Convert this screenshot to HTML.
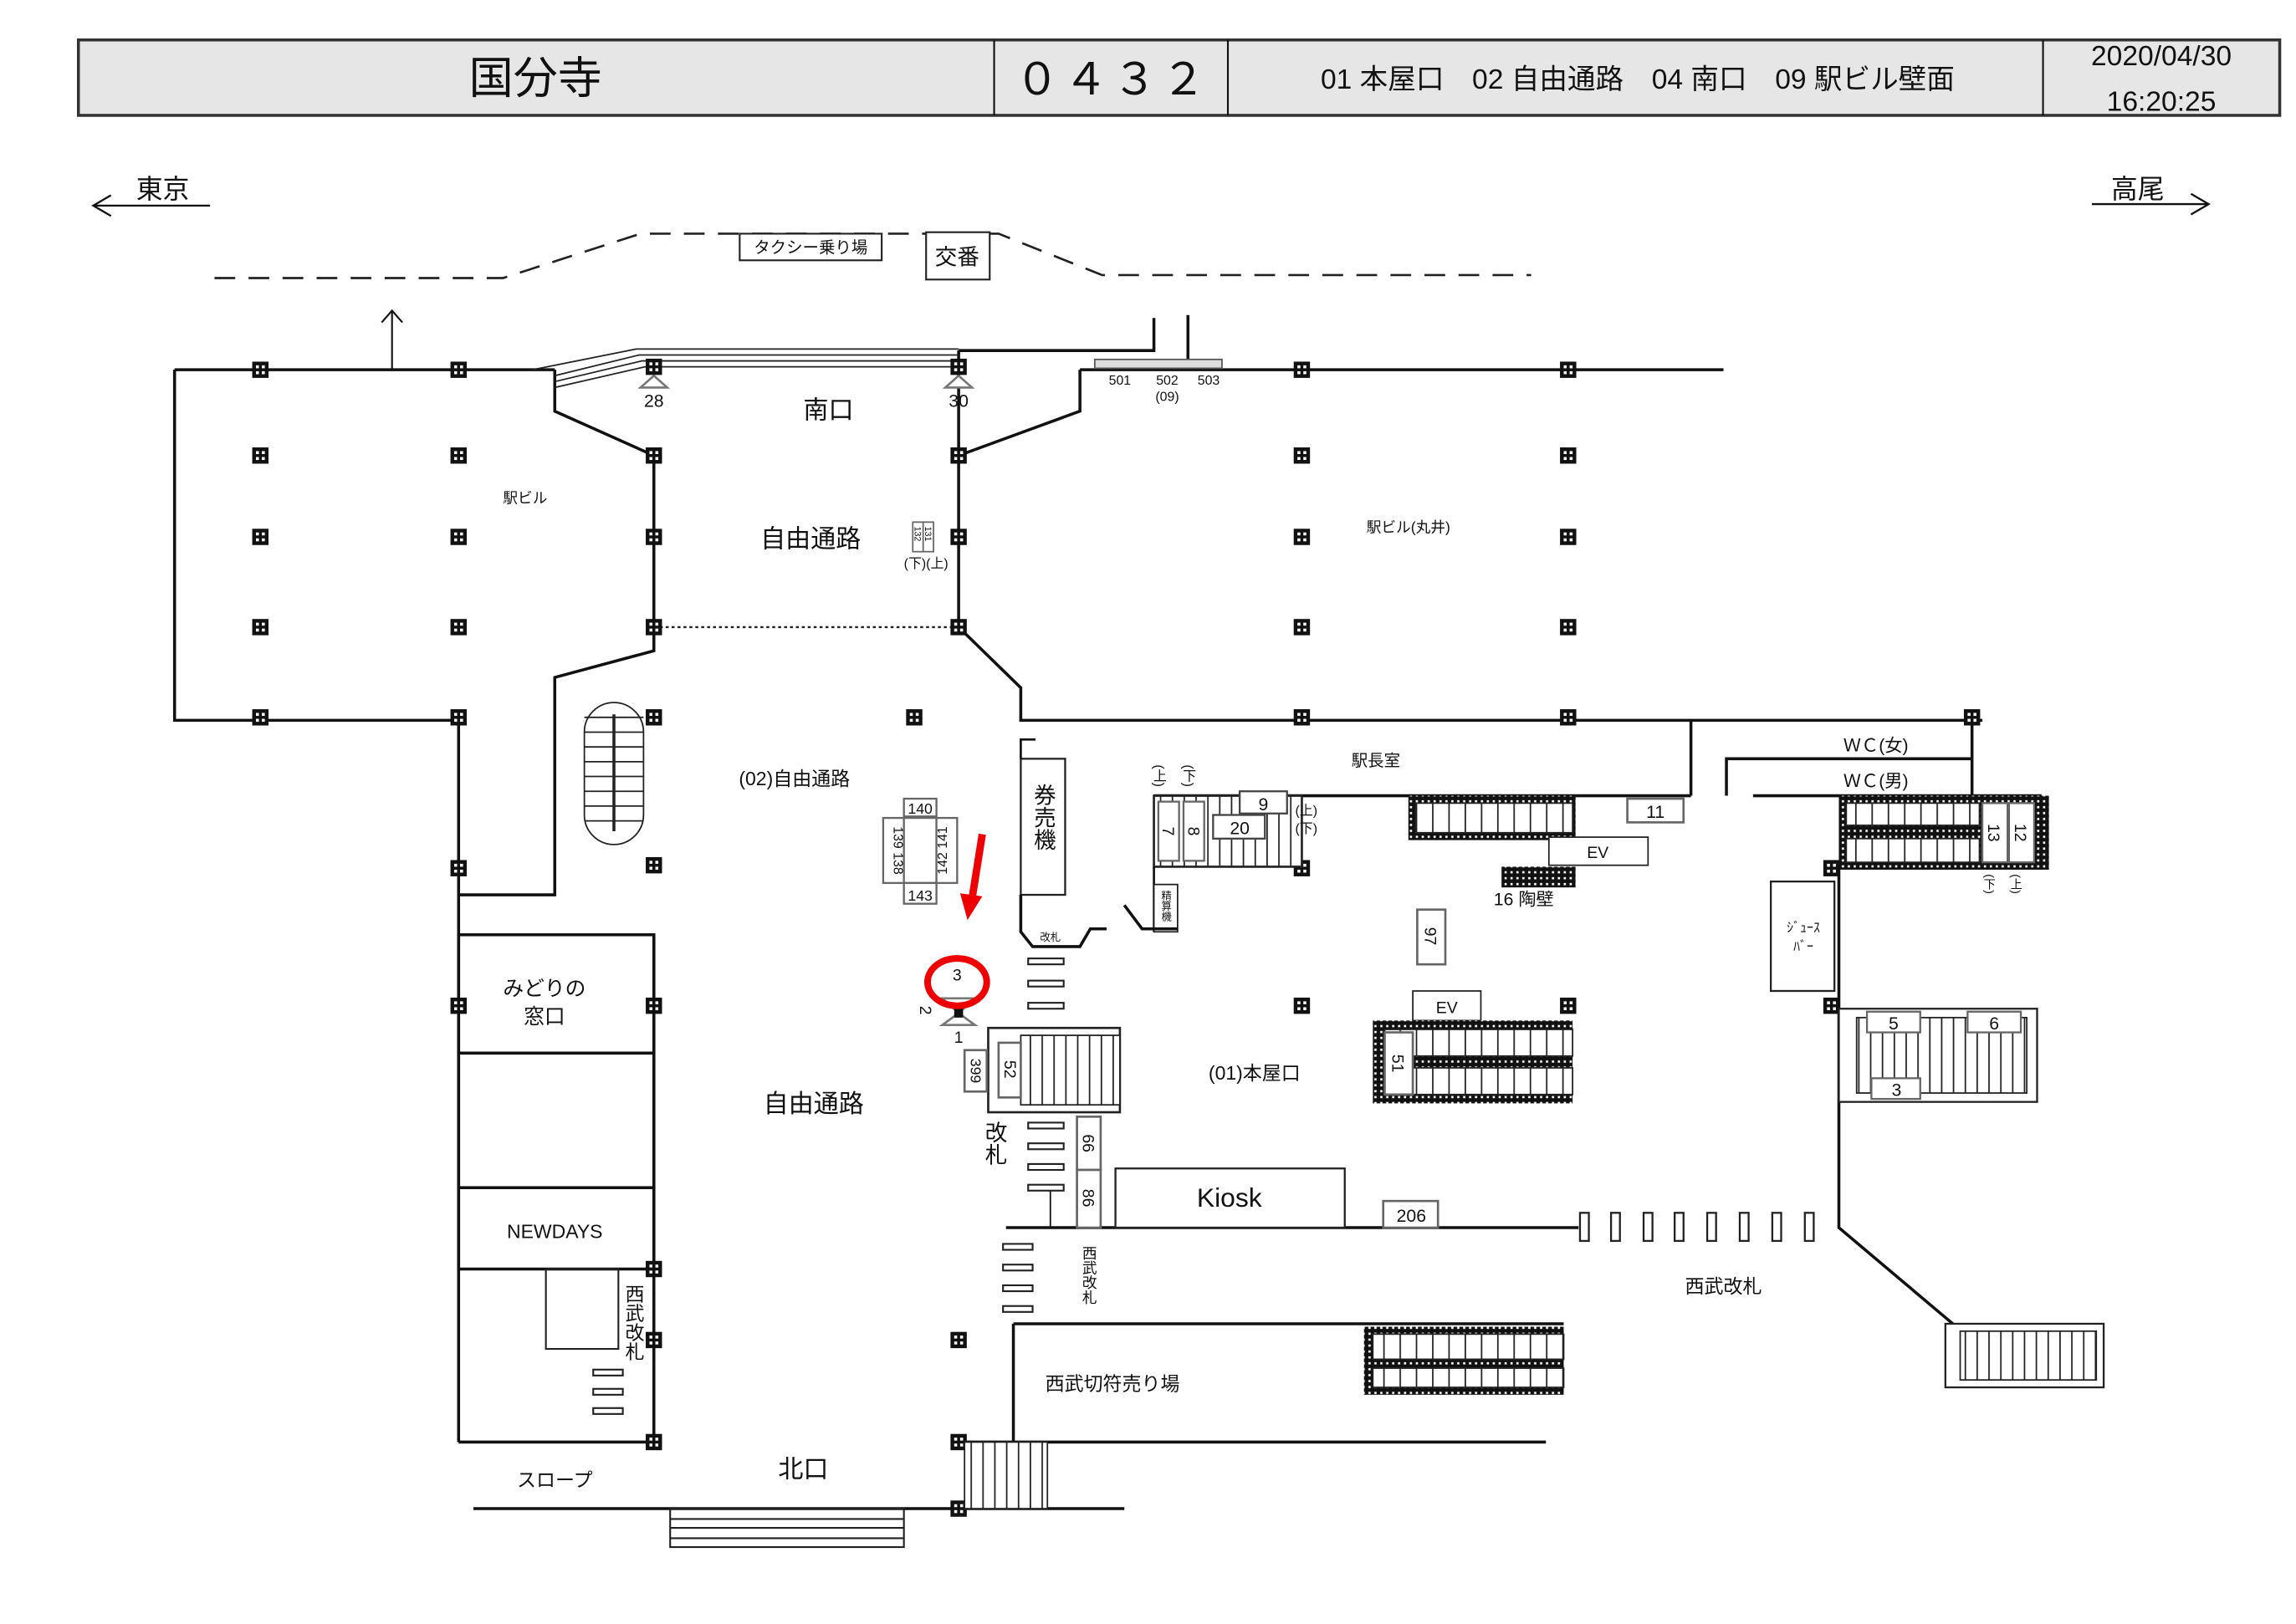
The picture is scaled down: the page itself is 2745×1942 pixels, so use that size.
<!DOCTYPE html>
<html><head><meta charset="utf-8"><style>
html,body{margin:0;padding:0;background:#fff;}
svg{display:block;}
text{font-family:"Liberation Sans","Noto Sans CJK JP",sans-serif;fill:#111;}
</style></head><body>
<svg width="2745" height="1942" viewBox="0 0 1552 1098" preserveAspectRatio="none" xmlns="http://www.w3.org/2000/svg">
<defs>
<g id="p"><rect x="-5.5" y="-5.5" width="11" height="11" fill="#111"/><rect x="-3" y="-3" width="2" height="2" fill="#fff"/><rect x="1" y="-3" width="2" height="2" fill="#fff"/><rect x="-3" y="1" width="2" height="2" fill="#fff"/><rect x="1" y="1" width="2" height="2" fill="#fff"/></g>
<pattern id="dot" width="4" height="4" patternUnits="userSpaceOnUse"><rect width="4" height="4" fill="#111"/><rect x="1" y="1" width="1.5" height="1.5" fill="#fff"/></pattern>
<pattern id="st" width="11" height="10" patternUnits="userSpaceOnUse"><rect width="11" height="10" fill="#fff"/><rect x="0" width="1" height="10" fill="#222"/></pattern>
<pattern id="st7" width="8" height="10" patternUnits="userSpaceOnUse"><rect width="8" height="10" fill="#fff"/><rect x="0" width="1" height="10" fill="#222"/></pattern>
</defs>
<rect width="1552" height="1098" fill="#fff"/>
<!-- header -->
<rect x="53" y="27" width="1488" height="51" fill="#e6e6e6" stroke="#333" stroke-width="2"/>
<g stroke="#111" stroke-width="1.2"><line x1="672" y1="27" x2="672" y2="78"/><line x1="830" y1="27" x2="830" y2="78"/><line x1="1381" y1="27" x2="1381" y2="78"/></g>
<text x="362" y="63" font-size="30" text-anchor="middle">国分寺</text>
<text x="752" y="64" font-size="30" text-anchor="middle" letter-spacing="3">０４３２</text>
<text x="1107" y="60" font-size="19" text-anchor="middle">01 本屋口　02 自由通路　04 南口　09 駅ビル壁面</text>
<text x="1461" y="44" font-size="19" text-anchor="middle">2020/04/30</text>
<text x="1461" y="75" font-size="19" text-anchor="middle">16:20:25</text>
<!-- direction arrows -->
<g stroke="#111" stroke-width="1.3" fill="none">
<line x1="63" y1="139" x2="142" y2="139"/><polyline points="75,132 63,139 75,146"/>
<line x1="1414" y1="138" x2="1493" y2="138"/><polyline points="1481,131 1493,138 1481,145"/>
</g>
<text x="110" y="134" font-size="18" text-anchor="middle">東京</text>
<text x="1445" y="134" font-size="18" text-anchor="middle">高尾</text>
<!-- dashed road -->
<g stroke="#222" stroke-width="1.5" fill="none" stroke-dasharray="14,9">
<polyline points="145,188 340,188 433,158 675,158 745,186 1035,186"/>
</g>
<rect x="500" y="158" width="96" height="18" fill="#fff" stroke="#222" stroke-width="1.2"/>
<text x="548" y="171" font-size="11" text-anchor="middle">タクシー乗り場</text>
<rect x="626" y="157" width="43" height="32" fill="#fff" stroke="#222" stroke-width="1.2"/>
<text x="647" y="179" font-size="15" text-anchor="middle">交番</text>
<!-- main structure lines -->
<g stroke="#111" stroke-width="2" fill="none">
<polyline points="118,250 375,250"/>
<polyline points="730,250 1165,250"/>
<polyline points="118,250 118,487 310,487"/>
<polyline points="375,250 375,278 442,308 442,424 442,440 375,458 375,605 310,605"/>
<polyline points="648,237 648,424 690,465 690,487 1340,487"/>
<polyline points="648,237 780,237 780,215"/>
<line x1="803" y1="213" x2="803" y2="243"/>
<polyline points="730,250 730,278 648,308"/>
<line x1="310" y1="487" x2="310" y2="975"/>
<line x1="1143" y1="487" x2="1143" y2="538"/>
<line x1="780" y1="538" x2="1143" y2="538"/>
<line x1="1333" y1="487" x2="1333" y2="538"/>
<polyline points="1167,538 1167,513 1333,513"/>
<line x1="1185" y1="538" x2="1380" y2="538"/>
<line x1="1243" y1="588" x2="1243" y2="740"/>
<polyline points="1243,740 1243,830 1320,895"/>
<line x1="680" y1="830" x2="1067" y2="830"/>
<line x1="685" y1="895" x2="685" y2="975"/>
<line x1="685" y1="895" x2="1057" y2="895"/>
<line x1="650" y1="975" x2="1045" y2="975"/>
<line x1="320" y1="1020" x2="760" y2="1020"/>
<line x1="310" y1="975" x2="442" y2="975"/>
<line x1="442" y1="632" x2="442" y2="975"/>
</g>
<line x1="265" y1="250" x2="265" y2="210" stroke="#111" stroke-width="1.2"/>
<polyline points="258,218 265,210 272,218" fill="none" stroke="#111" stroke-width="1.2"/>
<!-- south gate stairs lines -->
<g stroke="#222" stroke-width="1" fill="none">
<polyline points="360,250 430,236 648,236"/><polyline points="375,254 432,240 648,240"/>
<polyline points="375,258 434,244 648,244"/><polyline points="375,262 436,248 648,248"/>
</g>
<line x1="442" y1="424" x2="648" y2="424" stroke="#222" stroke-width="1.3" stroke-dasharray="2,2"/>
<!-- speakers -->
<polygon points="442,254 433,262 451,262" fill="#fff" stroke="#777" stroke-width="1.5"/>
<polygon points="648,254 639,262 657,262" fill="#fff" stroke="#777" stroke-width="1.5"/>
<text x="442" y="275" font-size="12" text-anchor="middle">28</text>
<text x="648" y="275" font-size="12" text-anchor="middle">30</text>
<rect x="740" y="243" width="86" height="6" fill="#ddd" stroke="#555"/>
<text x="757" y="260" font-size="9" text-anchor="middle">501</text>
<text x="789" y="260" font-size="9" text-anchor="middle">502</text>
<text x="817" y="260" font-size="9" text-anchor="middle">503</text>
<text x="789" y="271" font-size="9" text-anchor="middle">(09)</text>
<text x="560" y="283" font-size="17" text-anchor="middle">南口</text>
<text x="548" y="370" font-size="17" text-anchor="middle">自由通路</text>
<text x="355" y="340" font-size="10" text-anchor="middle">駅ビル</text>
<text x="952" y="360" font-size="10" text-anchor="middle">駅ビル(丸井)</text>
<rect x="617" y="353" width="14" height="20" fill="#fff" stroke="#666"/><line x1="624" y1="353" x2="624" y2="373" stroke="#666"/>
<text x="620" y="356" font-size="6" writing-mode="tb">132</text><text x="627" y="356" font-size="6" writing-mode="tb">131</text>
<text x="626" y="384" font-size="9" text-anchor="middle">(下)(上)</text>
<!-- pillars -->
<g>
<use href="#p" x="176" y="250"/><use href="#p" x="310" y="250"/><use href="#p" x="442" y="248"/><use href="#p" x="648" y="248"/><use href="#p" x="880" y="250"/><use href="#p" x="1060" y="250"/>
<use href="#p" x="176" y="308"/><use href="#p" x="310" y="308"/><use href="#p" x="442" y="308"/><use href="#p" x="648" y="308"/><use href="#p" x="880" y="308"/><use href="#p" x="1060" y="308"/>
<use href="#p" x="176" y="363"/><use href="#p" x="310" y="363"/><use href="#p" x="442" y="363"/><use href="#p" x="648" y="363"/><use href="#p" x="880" y="363"/><use href="#p" x="1060" y="363"/>
<use href="#p" x="176" y="424"/><use href="#p" x="310" y="424"/><use href="#p" x="442" y="424"/><use href="#p" x="648" y="424"/><use href="#p" x="880" y="424"/><use href="#p" x="1060" y="424"/>
<use href="#p" x="176" y="485"/><use href="#p" x="310" y="485"/><use href="#p" x="442" y="485"/><use href="#p" x="618" y="485"/><use href="#p" x="880" y="485"/><use href="#p" x="1060" y="485"/><use href="#p" x="1333" y="485"/>
<use href="#p" x="310" y="587"/><use href="#p" x="442" y="585"/><use href="#p" x="880" y="587"/>
<use href="#p" x="310" y="680"/><use href="#p" x="442" y="680"/><use href="#p" x="880" y="680"/><use href="#p" x="1060" y="680"/><use href="#p" x="1238" y="680"/><use href="#p" x="1238" y="587"/>
<use href="#p" x="442" y="858"/><use href="#p" x="442" y="906"/><use href="#p" x="648" y="906"/><use href="#p" x="442" y="975"/><use href="#p" x="648" y="975"/><use href="#p" x="648" y="1020"/>
</g>
<!-- escalator oval -->
<g stroke="#222" stroke-width="1" fill="none">
<rect x="395" y="475" width="40" height="96" rx="20"/>
<line x1="415" y1="483" x2="415" y2="562" stroke-width="2"/>
<line x1="395" y1="485" x2="435" y2="485"/><line x1="395" y1="495" x2="435" y2="495"/><line x1="395" y1="505" x2="435" y2="505"/><line x1="395" y1="515" x2="435" y2="515"/><line x1="395" y1="525" x2="435" y2="525"/><line x1="395" y1="535" x2="435" y2="535"/><line x1="395" y1="545" x2="435" y2="545"/><line x1="395" y1="555" x2="435" y2="555"/>
</g>
<text x="537" y="531" font-size="13" text-anchor="middle">(02)自由通路</text>
<!-- 138-143 cluster -->
<g stroke="#666" stroke-width="1.3" fill="#fff">
<rect x="611" y="540" width="22" height="12"/><rect x="597" y="553" width="14" height="44"/><rect x="611" y="553" width="22" height="44"/><rect x="633" y="553" width="14" height="44"/><rect x="611" y="597" width="22" height="14"/>
</g>
<text x="622" y="550" font-size="10" text-anchor="middle">140</text>
<text x="622" y="609" font-size="10" text-anchor="middle">143</text>
<text x="604" y="575" font-size="9" text-anchor="middle" transform="rotate(90 604 575)">139 138</text>
<text x="640" y="575" font-size="9" text-anchor="middle" transform="rotate(-90 640 575)">142 141</text>
<!-- left block -->
<g stroke="#111" stroke-width="2" fill="none">
<rect x="310" y="632" width="132" height="80"/><rect x="310" y="712" width="132" height="91"/><rect x="310" y="803" width="132" height="55"/>
</g>
<rect x="369" y="858" width="49" height="54" fill="none" stroke="#222" stroke-width="1.2"/>
<text x="368" y="673" font-size="14" text-anchor="middle">みどりの</text>
<text x="368" y="692" font-size="14" text-anchor="middle">窓口</text>
<text x="375" y="837" font-size="13" text-anchor="middle">NEWDAYS</text>
<text x="428" y="868" font-size="13" writing-mode="tb">西武改札</text>
<g fill="#fff" stroke="#222" stroke-width="1.2"><rect x="401" y="926" width="20" height="4"/><rect x="401" y="939" width="20" height="4"/><rect x="401" y="952" width="20" height="4"/></g>
<text x="550" y="752" font-size="17" text-anchor="middle">自由通路</text>
<!-- bottom -->
<text x="375" y="1005" font-size="13" text-anchor="middle">スロープ</text>
<text x="543" y="999" font-size="17" text-anchor="middle">北口</text>
<g stroke="#222" stroke-width="1.2" fill="none"><rect x="453" y="1020" width="158" height="26"/><line x1="453" y1="1027" x2="611" y2="1027"/><line x1="453" y1="1033" x2="611" y2="1033"/><line x1="453" y1="1040" x2="611" y2="1040"/></g>
<rect x="652" y="975" width="56" height="45" fill="url(#st7)" stroke="#222"/>
<!-- ticket machines -->
<rect x="690" y="513" width="30" height="92" fill="#fff" stroke="#222" stroke-width="1.3"/>
<text x="705" y="530" font-size="15" writing-mode="tb">券売機</text>
<polyline points="690,605 690,630 698,640 730,640 737,628 748,628" fill="none" stroke="#111" stroke-width="2"/>
<polyline points="690,513 690,500 700,500" fill="none" stroke="#111" stroke-width="1.5"/>
<text x="710" y="636" font-size="7" text-anchor="middle">改札</text>
<g fill="#fff" stroke="#222" stroke-width="1.2">
<rect x="695" y="648" width="24" height="4"/><rect x="695" y="663" width="24" height="4"/><rect x="695" y="678" width="24" height="4"/>
<rect x="695" y="759" width="24" height="4"/><rect x="695" y="773" width="24" height="4"/><rect x="695" y="787" width="24" height="4"/><rect x="695" y="801" width="24" height="4"/>
<rect x="678" y="841" width="20" height="4"/><rect x="678" y="855" width="20" height="4"/><rect x="678" y="869" width="20" height="4"/><rect x="678" y="883" width="20" height="4"/>
</g>
<line x1="710" y1="805" x2="710" y2="830" stroke="#111" stroke-width="1"/>
<!-- speaker target -->
<polygon points="637,675 659,675 648,685" fill="#fff" stroke="#777" stroke-width="1.5"/>
<polygon points="648,685 637,693 659,693" fill="#fff" stroke="#777" stroke-width="1.5"/>
<rect x="645" y="682" width="6" height="6" fill="#111"/>
<text x="647" y="663" font-size="11" text-anchor="middle">3</text>
<text x="622" y="680" font-size="11" transform="rotate(90 622 680)">2</text>
<text x="648" y="705" font-size="11" text-anchor="middle">1</text>
<ellipse cx="647" cy="664" rx="20" ry="16" fill="none" stroke="#e00" stroke-width="4.5"/>
<line x1="664" y1="564" x2="657" y2="608" stroke="#e00" stroke-width="5"/>
<polygon points="649,604 664,606 654,622" fill="#e00"/>
<!-- stairs near gate -->
<rect x="668" y="695" width="89" height="57" fill="#fff" stroke="#222" stroke-width="1.5"/>
<rect x="690" y="700" width="67" height="47" fill="url(#st7)" stroke="#222"/>
<rect x="675" y="705" width="15" height="37" fill="#fff" stroke="#666" stroke-width="1.5"/>
<text x="683" y="723" font-size="11" text-anchor="middle" transform="rotate(90 683 723)" dy="4">52</text>
<rect x="652" y="710" width="15" height="28" fill="#fff" stroke="#666" stroke-width="1.5"/>
<text x="660" y="724" font-size="10" text-anchor="middle" transform="rotate(90 660 724)" dy="4">399</text>
<text x="672" y="758" font-size="15" writing-mode="tb">改札</text>
<rect x="728" y="755" width="16" height="36" fill="#fff" stroke="#666" stroke-width="1.5"/>
<text x="736" y="773" font-size="11" text-anchor="middle" transform="rotate(90 736 773)" dy="4">66</text>
<rect x="728" y="791" width="16" height="39" fill="#fff" stroke="#666" stroke-width="1.5"/>
<text x="736" y="810" font-size="11" text-anchor="middle" transform="rotate(90 736 810)" dy="4">86</text>
<rect x="754" y="790" width="155" height="40" fill="#fff" stroke="#222" stroke-width="1.3"/>
<text x="831" y="816" font-size="18" text-anchor="middle">Kiosk</text>
<rect x="935" y="812" width="37" height="18" fill="#fff" stroke="#666" stroke-width="1.5"/>
<text x="954" y="826" font-size="12" text-anchor="middle">206</text>
<g fill="#fff" stroke="#222" stroke-width="1.3">
<rect x="1068" y="820" width="6" height="19"/><rect x="1089" y="820" width="6" height="19"/><rect x="1111" y="820" width="6" height="19"/><rect x="1132" y="820" width="6" height="19"/><rect x="1154" y="820" width="6" height="19"/><rect x="1176" y="820" width="6" height="19"/><rect x="1198" y="820" width="6" height="19"/><rect x="1220" y="820" width="6" height="19"/>
</g>
<text x="736" y="842" font-size="10" writing-mode="tb">西武改札</text>
<text x="1165" y="874" font-size="13" text-anchor="middle">西武改札</text>
<text x="752" y="940" font-size="13" text-anchor="middle">西武切符売り場</text>
<rect x="922" y="897" width="135" height="46" fill="url(#dot)"/>
<rect x="928" y="902" width="129" height="17" fill="url(#st)" stroke="#222"/><rect x="928" y="925" width="129" height="13" fill="url(#st)" stroke="#222"/>
<rect x="1315" y="895" width="107" height="43" fill="#fff" stroke="#222" stroke-width="1.3"/><rect x="1325" y="900" width="92" height="33" fill="url(#st7)" stroke="#222"/>
<!-- station office area -->
<text x="930" y="518" font-size="11" text-anchor="middle">駅長室</text>
<text x="783" y="517" font-size="9" writing-mode="tb">(上)</text>
<text x="803" y="517" font-size="9" writing-mode="tb">(下)</text>
<rect x="780" y="538" width="100" height="48" fill="url(#st7)" stroke="#222" stroke-width="1.5"/>
<rect x="783" y="542" width="14" height="40" fill="#fff" stroke="#666" stroke-width="1.3"/>
<rect x="800" y="542" width="14" height="40" fill="#fff" stroke="#666" stroke-width="1.3"/>
<text x="790" y="562" font-size="11" text-anchor="middle" transform="rotate(90 790 562)" dy="4">7</text>
<text x="807" y="562" font-size="11" text-anchor="middle" transform="rotate(90 807 562)" dy="4">8</text>
<rect x="820" y="551" width="35" height="16" fill="#fff" stroke="#444" stroke-width="1.3"/><text x="838" y="564" font-size="12" text-anchor="middle">20</text>
<rect x="838" y="535" width="32" height="15" fill="#fff" stroke="#444" stroke-width="1.3"/><text x="854" y="548" font-size="12" text-anchor="middle">9</text>
<text x="883" y="551" font-size="9" text-anchor="middle">(上)</text><text x="883" y="563" font-size="9" text-anchor="middle">(下)</text>
<polyline points="780,586 780,630" stroke="#111" stroke-width="1.5" fill="none"/>
<rect x="780" y="598" width="16" height="32" fill="#fff" stroke="#222"/><text x="788" y="602" font-size="7" writing-mode="tb">精算機</text>
<polyline points="760,612 772,628 796,628" stroke="#111" stroke-width="2" fill="none"/>
<rect x="952" y="538" width="113" height="30" fill="url(#dot)"/><rect x="957" y="543" width="106" height="20" fill="url(#st)" stroke="#222"/>
<rect x="1100" y="540" width="38" height="16" fill="#fff" stroke="#666" stroke-width="1.5"/><text x="1119" y="553" font-size="12" text-anchor="middle">11</text>
<rect x="1047" y="566" width="67" height="19" fill="#fff" stroke="#222"/><text x="1080" y="580" font-size="11" text-anchor="middle">EV</text>
<rect x="1015" y="586" width="50" height="14" fill="url(#dot)"/>
<text x="1030" y="612" font-size="12" text-anchor="middle">16  陶壁</text>
<rect x="958" y="615" width="19" height="37" fill="#fff" stroke="#666" stroke-width="1.5"/><text x="967" y="633" font-size="11" text-anchor="middle" transform="rotate(90 967 633)" dy="4">97</text>
<rect x="955" y="670" width="46" height="20" fill="#fff" stroke="#222"/><text x="978" y="685" font-size="11" text-anchor="middle">EV</text>
<rect x="928" y="690" width="135" height="56" fill="url(#dot)"/>
<rect x="936" y="696" width="127" height="18" fill="url(#st)" stroke="#222"/><rect x="936" y="722" width="127" height="18" fill="url(#st)" stroke="#222"/>
<rect x="936" y="698" width="19" height="42" fill="#fff" stroke="#666" stroke-width="1.5"/><text x="945" y="719" font-size="11" text-anchor="middle" transform="rotate(90 945 719)" dy="4">51</text>
<text x="848" y="730" font-size="13" text-anchor="middle">(01)本屋口</text>
<!-- WC and right -->
<text x="1268" y="508" font-size="12" text-anchor="middle">ＷＣ(女)</text>
<text x="1268" y="532" font-size="12" text-anchor="middle">ＷＣ(男)</text>
<rect x="1243" y="538" width="142" height="50" fill="url(#dot)"/>
<rect x="1248" y="543" width="90" height="15" fill="url(#st)" stroke="#222"/><rect x="1248" y="567" width="90" height="16" fill="url(#st)" stroke="#222"/>
<rect x="1340" y="543" width="17" height="40" fill="#fff" stroke="#666" stroke-width="1.3"/><rect x="1358" y="543" width="17" height="40" fill="#fff" stroke="#666" stroke-width="1.3"/>
<text x="1348" y="563" font-size="11" text-anchor="middle" transform="rotate(90 1348 563)" dy="4">13</text>
<text x="1366" y="563" font-size="11" text-anchor="middle" transform="rotate(90 1366 563)" dy="4">12</text>
<text x="1345" y="591" font-size="8" writing-mode="tb">(下)</text><text x="1363" y="591" font-size="8" writing-mode="tb">(上)</text>
<rect x="1197" y="596" width="43" height="74" fill="#fff" stroke="#222" stroke-width="1.3"/>
<text x="1219" y="630" font-size="9" text-anchor="middle">ｼﾞｭｰｽ</text><text x="1219" y="643" font-size="9" text-anchor="middle">ﾊﾞｰ</text>
<rect x="1243" y="682" width="134" height="63" fill="#fff" stroke="#222" stroke-width="1.3"/>
<rect x="1255" y="688" width="115" height="51" fill="url(#st7)" stroke="#222"/>
<rect x="1262" y="684" width="36" height="14" fill="#fff" stroke="#666" stroke-width="1.3"/><text x="1280" y="696" font-size="12" text-anchor="middle">5</text>
<rect x="1330" y="684" width="36" height="14" fill="#fff" stroke="#666" stroke-width="1.3"/><text x="1348" y="696" font-size="12" text-anchor="middle">6</text>
<rect x="1265" y="729" width="33" height="14" fill="#fff" stroke="#666" stroke-width="1.3"/><text x="1282" y="741" font-size="12" text-anchor="middle">3</text>
</svg>
</body></html>
